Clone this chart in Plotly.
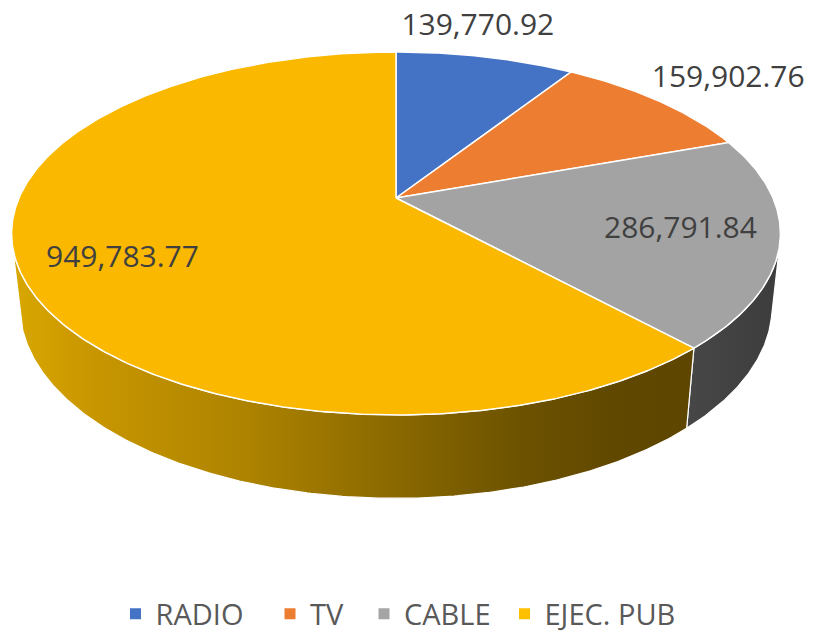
import numpy as np
import plotly.graph_objects as go

# ---------------- data ----------------
categories = ["RADIO", "TV", "CABLE", "EJEC. PUB"]
values = [139770.92, 159902.76, 286791.84, 949783.77]
value_labels = ["139,770.92", "159,902.76", "286,791.84", "949,783.77"]

# ---------------- style ----------------
top_colors = ["#4472C4", "#ED7D31", "#A3A3A3", "#FAB800"]
legend_colors = ["#4472C4", "#ED7D31", "#A5A5A5", "#FFC000"]
side_scales = [
    [[0, "#2F4F8A"], [1, "#2F4F8A"]],
    [[0, "#A5561F"], [1, "#A5561F"]],
    [[0, "#474747"], [1, "#3C3C3C"]],
    [[0, "#D9A700"], [0.12, "#C89600"], [0.35, "#AC8200"], [0.55, "#8C6A00"],
     [0.75, "#6C5200"], [0.88, "#604800"], [1, "#5E4600"]],
]

# ---------------- 3D projection (layout) ----------------
W, H = 828, 634          # visible window
H_FIG = 650              # figure is a bit taller so the legend box never pushes margins
CX, CY = 396, 198
SIN_PHI = 0.4545
COS_PHI = float(np.sqrt(1 - SIN_PHI ** 2))
DIST = 4.557
FOCAL_X = 1718.0
FOCAL_Y = 1750.0
DEPTH = 0.215

# label placement (layout): polar anchor on the pie plane
label_anchor_deg = [12.5, 52.5, 104.0, 244.0]
label_radius = [1.24, 1.28, 0.75, 0.755]

# legend entry placement (layout, px of marker centre)
legend_marker_px = [135.5, 290, 384, 524.5]
legend_center_y_px = 614


def project(theta_deg, r=1.0, z=0.0):
    t = np.radians(theta_deg)
    x = r * np.sin(t)
    y = r * np.cos(t)
    yc = y * SIN_PHI + z * COS_PHI
    zc = DIST + y * COS_PHI - z * SIN_PHI
    return CX + FOCAL_X * x / zc, CY - FOCAL_Y * yc / zc


total = float(np.sum(values))
fracs = np.array(values) / total
ends = np.cumsum(fracs) * 360.0
starts = np.concatenate([[0.0], ends[:-1]])

k = 1.0 / (DIST * COS_PHI)
vis_lo = float(np.degrees(np.arccos(-k)))
vis_hi = 360.0 - vis_lo

fig = go.Figure()

# sides (drawn first)
for i in range(len(values)):
    a0 = max(starts[i], vis_lo)
    a1 = min(ends[i], vis_hi)
    if a0 >= a1:
        continue
    n = max(int((a1 - a0) * 2), 8)
    th = np.linspace(a0, a1, n)
    tx, ty = project(th, 1.0, 0.0)
    bx, by = project(th[::-1], 1.0, -DEPTH)
    xs = np.concatenate([tx, bx, tx[:1]])
    ys = np.concatenate([ty, by, ty[:1]])
    fig.add_trace(go.Scatter(
        x=xs, y=ys, mode="lines", fill="toself",
        fillgradient=dict(type="horizontal", colorscale=side_scales[i],
                          start=float(xs.min()), stop=float(xs.max())),
        line=dict(color="white", width=1.2),
        hoverinfo="skip", showlegend=False))

# tops
for i in range(len(values)):
    n = max(int((ends[i] - starts[i]) * 2), 8)
    th = np.linspace(starts[i], ends[i], n)
    ax, ay = project(th, 1.0, 0.0)
    cx0, cy0 = project(0.0, 0.0, 0.0)
    xs = np.concatenate([[cx0], ax, [cx0]])
    ys = np.concatenate([[cy0], ay, [cy0]])
    fig.add_trace(go.Scatter(
        x=xs, y=ys, mode="lines", fill="toself", fillcolor=top_colors[i],
        line=dict(color="white", width=1.5),
        hoverinfo="skip", showlegend=False))

# data labels
lx, ly = [], []
for i in range(len(values)):
    px, py = project(label_anchor_deg[i], label_radius[i], 0.0)
    lx.append(px)
    ly.append(py)
fig.add_trace(go.Scatter(
    x=lx, y=ly, mode="text", text=value_labels,
    textfont=dict(family="Open Sans", size=30, color="#404040"),
    textposition="middle center", hoverinfo="skip", showlegend=False))

# legend entries, one legend box per entry so spacing can follow the reference
legend_layout = {}
for i, c in enumerate(categories):
    lname = "legend" if i == 0 else f"legend{i + 1}"
    fig.add_trace(go.Scatter(
        x=[None], y=[None], mode="markers", name=c, legend=lname,
        marker=dict(symbol="square", size=11, color=legend_colors[i])))
    legend_layout[lname] = dict(
        orientation="h",
        x=(legend_marker_px[i] - 20) / W, xanchor="left",
        y=1 - legend_center_y_px / H_FIG, yanchor="middle",
        bgcolor="rgba(0,0,0,0)",
        font=dict(family="Open Sans", size=29, color="#595959"),
        itemclick=False, itemdoubleclick=False)

fig.update_layout(
    width=W, height=H_FIG,
    margin=dict(l=0, r=0, t=0, b=0),
    paper_bgcolor="white", plot_bgcolor="white",
    xaxis=dict(range=[0, W], visible=False, fixedrange=True),
    yaxis=dict(range=[H_FIG, 0], visible=False, fixedrange=True),
    showlegend=True,
    hovermode=False,
    **legend_layout,
)

fig.write_html("out.html", config={"displayModeBar": False},
               post_script="document.body.style.margin='0';"
                           "document.body.style.overflow='hidden';")
